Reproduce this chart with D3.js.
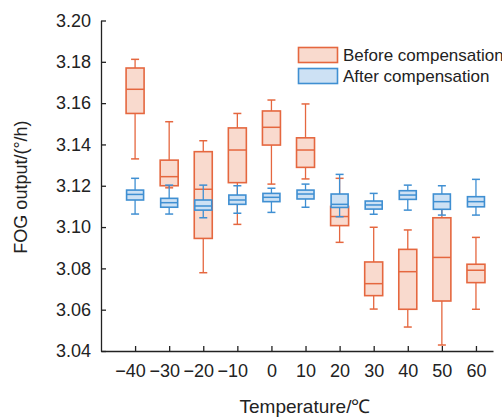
<!DOCTYPE html>
<html>
<head>
<meta charset="utf-8">
<script src="https://cdn.jsdelivr.net/npm/d3@7"></script>
<style>
  body { margin: 0; background: #fff; }
  svg { display: block; font-family: Arial, "Liberation Sans", sans-serif; }
</style>
</head>
<body>
<svg id="canvas" width="502" height="417"></svg>
<script>
// Data: temperatures and five-number summaries [min, q1, median, q3, max]
let temps = [-40, -30, -20, -10, 0, 10, 20, 30, 40, 50, 60];
let beforeStats = [
    [3.133, 3.155, 3.1667, 3.177, 3.1812],
    [3.119, 3.120, 3.1244, 3.1324, 3.151],
    [3.0779, 3.0945, 3.1183, 3.1365, 3.1418],
    [3.1013, 3.1215, 3.1373, 3.148, 3.155],
    [3.1208, 3.1397, 3.1483, 3.1562, 3.1615],
    [3.1233, 3.1289, 3.1373, 3.1432, 3.1596],
    [3.0926, 3.1007, 3.1051, 3.110, 3.1236],
    [3.0603, 3.0668, 3.0726, 3.0831, 3.0999],
    [3.0516, 3.0602, 3.0784, 3.0892, 3.0986],
    [3.0429, 3.0642, 3.0853, 3.1045, 3.112],
    [3.0602, 3.0731, 3.0791, 3.082, 3.095]
];
let afterStats = [
    [3.1063, 3.1131, 3.1158, 3.1179, 3.1236],
    [3.1063, 3.1096, 3.1118, 3.1139, 3.1203],
    [3.1045, 3.1082, 3.1102, 3.1131, 3.1203],
    [3.1067, 3.111, 3.1131, 3.1155, 3.120],
    [3.1071, 3.1123, 3.1144, 3.1163, 3.1188],
    [3.1096, 3.1136, 3.116, 3.1179, 3.1208],
    [3.105, 3.1095, 3.111, 3.116, 3.1255],
    [3.1062, 3.1087, 3.1107, 3.1126, 3.1163],
    [3.1082, 3.1134, 3.1155, 3.1176, 3.1203],
    [3.1058, 3.1086, 3.1123, 3.116, 3.12],
    [3.1058, 3.1098, 3.1123, 3.1147, 3.1231]
];
let yTicks = [3.04, 3.06, 3.08, 3.10, 3.12, 3.14, 3.16, 3.18, 3.20];
let seriesNames = ['Before compensation', 'After compensation'];

let canvas = d3.select('#canvas');
let plotLeft = 101, plotRight = 493, plotTop = 20.5, plotBottom = 351;

let xScale = d3.scaleLinear().domain([-50, 65]).range([plotLeft, plotRight]);
let yScale = d3.scaleLinear().domain([3.04, 3.20]).range([plotBottom, plotTop]);

let colors = [
    { stroke: '#e5673f', fill: '#f9dace' },
    { stroke: '#3f8fd2', fill: '#cde1f4' }
];

// Draw one series of boxes
let drawBoxes = (stats, col, boxW) => {
    let g = canvas.append('g');
    let items = stats.map((s, i) => ({ t: temps[i], s: s }));
    let grp = g.selectAll('g').data(items).enter().append('g');

    // whisker line
    grp.append('line')
        .attr('x1', d => xScale(d.t)).attr('x2', d => xScale(d.t))
        .attr('y1', d => yScale(d.s[0])).attr('y2', d => yScale(d.s[4]))
        .attr('stroke', col.stroke).attr('stroke-width', 1.3);
    // caps
    [0, 4].forEach(k => {
        grp.append('line')
            .attr('x1', d => xScale(d.t) - 4).attr('x2', d => xScale(d.t) + 4)
            .attr('y1', d => yScale(d.s[k])).attr('y2', d => yScale(d.s[k]))
            .attr('stroke', col.stroke).attr('stroke-width', 1.5);
    });
    // box
    grp.append('rect')
        .attr('x', d => xScale(d.t) - boxW / 2)
        .attr('width', boxW)
        .attr('y', d => yScale(d.s[3]))
        .attr('height', d => yScale(d.s[1]) - yScale(d.s[3]))
        .attr('fill', col.fill)
        .attr('stroke', col.stroke).attr('stroke-width', 1.6);
    // median
    grp.append('line')
        .attr('x1', d => xScale(d.t) - boxW / 2).attr('x2', d => xScale(d.t) + boxW / 2)
        .attr('y1', d => yScale(d.s[2])).attr('y2', d => yScale(d.s[2]))
        .attr('stroke', col.stroke).attr('stroke-width', 1.5);
};

drawBoxes(beforeStats, colors[0], 18);
drawBoxes(afterStats, colors[1], 17);

// Axes
let fmtTemp = (d) => (d < 0 ? '\u2212' + Math.abs(d) : '' + d);
let xAxis = d3.axisBottom(xScale).tickValues(temps).tickFormat(fmtTemp)
    .tickSizeInner(-5).tickSizeOuter(0).tickPadding(13);
let yAxis = d3.axisLeft(yScale).tickValues(yTicks).tickFormat(d3.format('.2f'))
    .tickSizeInner(-5).tickSizeOuter(0).tickPadding(10);

let gx = canvas.append('g').attr('transform', 'translate(0,' + plotBottom + ')').call(xAxis);
let gy = canvas.append('g').attr('transform', 'translate(' + plotLeft + ',0)').call(yAxis);

[gx, gy].forEach(g => {
    g.selectAll('path, line').attr('stroke', '#222').attr('stroke-width', 1.3);
    g.selectAll('text').attr('fill', '#222').style('font-size', '18px')
        .style('font-family', 'Arial, "Liberation Sans", sans-serif');
});
// digits centred on the tick, minus sign hangs to the left
gx.selectAll('.tick text').attr('dx', d => (d < 0 ? -5 : 0));

// Axis titles
canvas.append('text')
    .attr('x', 305).attr('y', 413)
    .attr('text-anchor', 'middle')
    .attr('fill', '#222').style('font-size', '19px')
    .text('Temperature/\u2103');

canvas.append('text')
    .attr('transform', 'translate(27,' + 187 + ') rotate(-90)')
    .attr('text-anchor', 'middle')
    .attr('fill', '#222').style('font-size', '18px')
    .text('FOG output/(\u00b0/h)');

// Legend
let legend = canvas.append('g');
seriesNames.forEach((name, i) => {
    let y0 = 47.5 + i * 21;
    legend.append('rect')
        .attr('x', 298.5).attr('y', y0).attr('width', 39).attr('height', 15)
        .attr('fill', colors[i].fill).attr('stroke', colors[i].stroke).attr('stroke-width', 1.6);
    legend.append('text')
        .attr('x', 343).attr('y', y0 + 13)
        .attr('fill', '#222').style('font-size', '17px')
        .text(name);
});
</script>
</body>
</html>
